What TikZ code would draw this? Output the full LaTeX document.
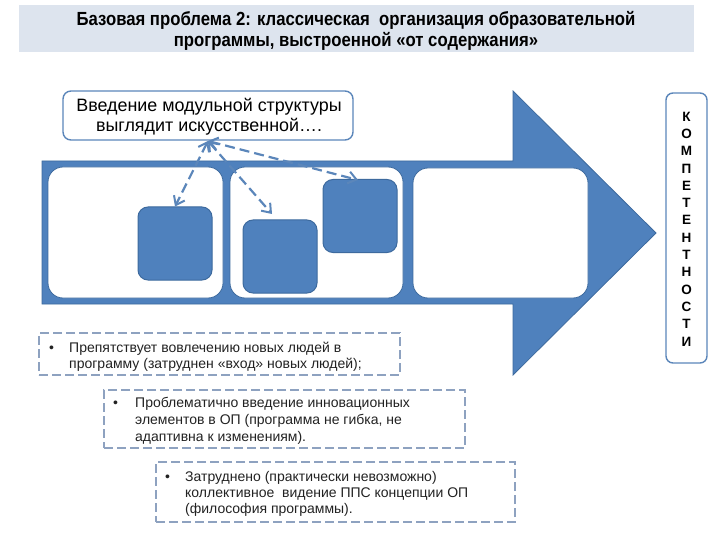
\documentclass[tikz,border=0pt]{standalone}
\usepackage{fontspec}
\setmainfont{Liberation Sans}
\newfontfamily\titlefont[FakeStretch=0.88]{Liberation Sans Bold}
\usetikzlibrary{arrows.meta,calc}
\definecolor{band}{HTML}{DDE4EE}
\definecolor{mblue}{HTML}{4F81BD}
\definecolor{dblue}{HTML}{3D6A9E}
\definecolor{lblue}{HTML}{5B86BA}
\definecolor{dgray}{HTML}{8EA2C0}
\definecolor{txt}{HTML}{222222}
\begin{document}
\begin{tikzpicture}[x=1pt,y=-1pt,
  innerbox/.style={draw=dblue,line width=0.8pt,fill=white,rounded corners=15pt,inner sep=0pt},
  module/.style={draw=dblue,line width=1pt,fill=mblue,rounded corners=10pt,inner sep=0pt,minimum width=74pt,minimum height=73pt},
  dashbox/.style={draw=dgray,line width=1.6pt,dash pattern=on 9pt off 4pt,fill=white,inner sep=0pt},
  bodytext/.style={anchor=base west,inner sep=0pt,text=txt,font=\fontsize{14}{17}\selectfont},
  titleline/.style={anchor=base,inner sep=0pt,font=\titlefont\fontsize{19}{21}\selectfont},
  link/.style={draw=lblue,line width=2.2pt,dash pattern=on 10pt off 5pt,{Straight Barb[length=8pt,width=12pt,line width=2pt]}-{Straight Barb[length=8pt,width=12pt,line width=2pt]}}
]
\useasboundingbox (0,0) rectangle (720,540);
\fill[white] (0,0) rectangle (720,540);
% title
\node[fill=band,minimum width=675pt,minimum height=47pt,inner sep=0pt] (title) at (356.5,28.5) {};
\node[titleline] (title1) at (356,25.5) {Базовая проблема 2: классическая \ организация образовательной};
\node[titleline] (title2) at (356,47) {программы, выстроенной «от содержания»};
% big arrow
\draw[fill=mblue,draw=dblue,line width=0.8pt] (42,161) -- (513,161) -- (513,91) -- (656,233) -- (513,375) -- (513,304) -- (42,304) -- cycle;
% inner boxes
\node[innerbox,minimum width=175pt,minimum height=131pt] (m1) at (135.5,232.5) {};
\node[innerbox,minimum width=173pt,minimum height=131pt] (m2) at (316.5,232.5) {};
\node[innerbox,minimum width=175pt,minimum height=130pt] (m3) at (500.5,233) {};
% modules
\node[module] (sqa) at (175,243.5) {};
\node[module] (sqb) at (280,256.5) {};
\node[module] (sqc) at (360,216) {};
% callout
\node[draw=lblue,line width=1.4pt,fill=white,rounded corners=8pt,minimum width=290pt,minimum height=49pt,inner sep=0pt] (callout) at (208,115.5) {};
\node[anchor=base,inner sep=0pt,font=\fontsize{17.9}{18}\selectfont] (callout1) at (209,112) {Введение модульной структуры};
\node[anchor=base,inner sep=0pt,font=\fontsize{17.9}{18}\selectfont] (callout2) at (209,132) {выглядит искусственной….};
% links
\coordinate (hub) at (208,141);
\coordinate (endb) at (272,214);
\draw[link] (hub) -- (sqa.north);
\draw[link] (hub) -- (endb);
\draw[link] (hub) -- ($(sqc.north)+(-2,1)$);
% competences
\node[draw=lblue,line width=1.4pt,fill=white,rounded corners=7pt,minimum width=41pt,minimum height=270pt,inner sep=0pt] (comp) at (686.5,228) {};
\node[align=center,inner sep=0pt,font=\bfseries\fontsize{13.5}{17.3}\selectfont] (comptext) at (686.5,229)
  {К\\О\\М\\П\\Е\\Т\\Е\\Н\\Т\\Н\\О\\С\\Т\\И};
% dashed text boxes
\node[dashbox,minimum width=361pt,minimum height=42pt] (b1) at (219.5,354) {};
\node[bodytext] (b1dot) at (49,352) {•};
\node[bodytext] (b1l1) at (69,352) {Препятствует вовлечению новых людей в};
\node[bodytext] (b1l2) at (69,368.5) {программу (затруднен «вход» новых людей);};
\node[dashbox,minimum width=361pt,minimum height=58pt] (b2) at (284.5,419) {};
\node[bodytext] (b2dot) at (113,407) {•};
\node[bodytext] (b2l1) at (135,407) {Проблематично введение инновационных};
\node[bodytext] (b2l2) at (135,424) {элементов в ОП (программа не гибка, не};
\node[bodytext] (b2l3) at (135,441) {адаптивна к изменениям).};
\node[dashbox,minimum width=359pt,minimum height=60pt] (b3) at (335.5,492) {};
\node[bodytext] (b3dot) at (165,481) {•};
\node[bodytext] (b3l1) at (185,481) {Затруднено (практически невозможно)};
\node[bodytext] (b3l2) at (185,497) {коллективное \ видение ППС концепции ОП};
\node[bodytext] (b3l3) at (185,513) {(философия программы).};
\end{tikzpicture}
\end{document}
